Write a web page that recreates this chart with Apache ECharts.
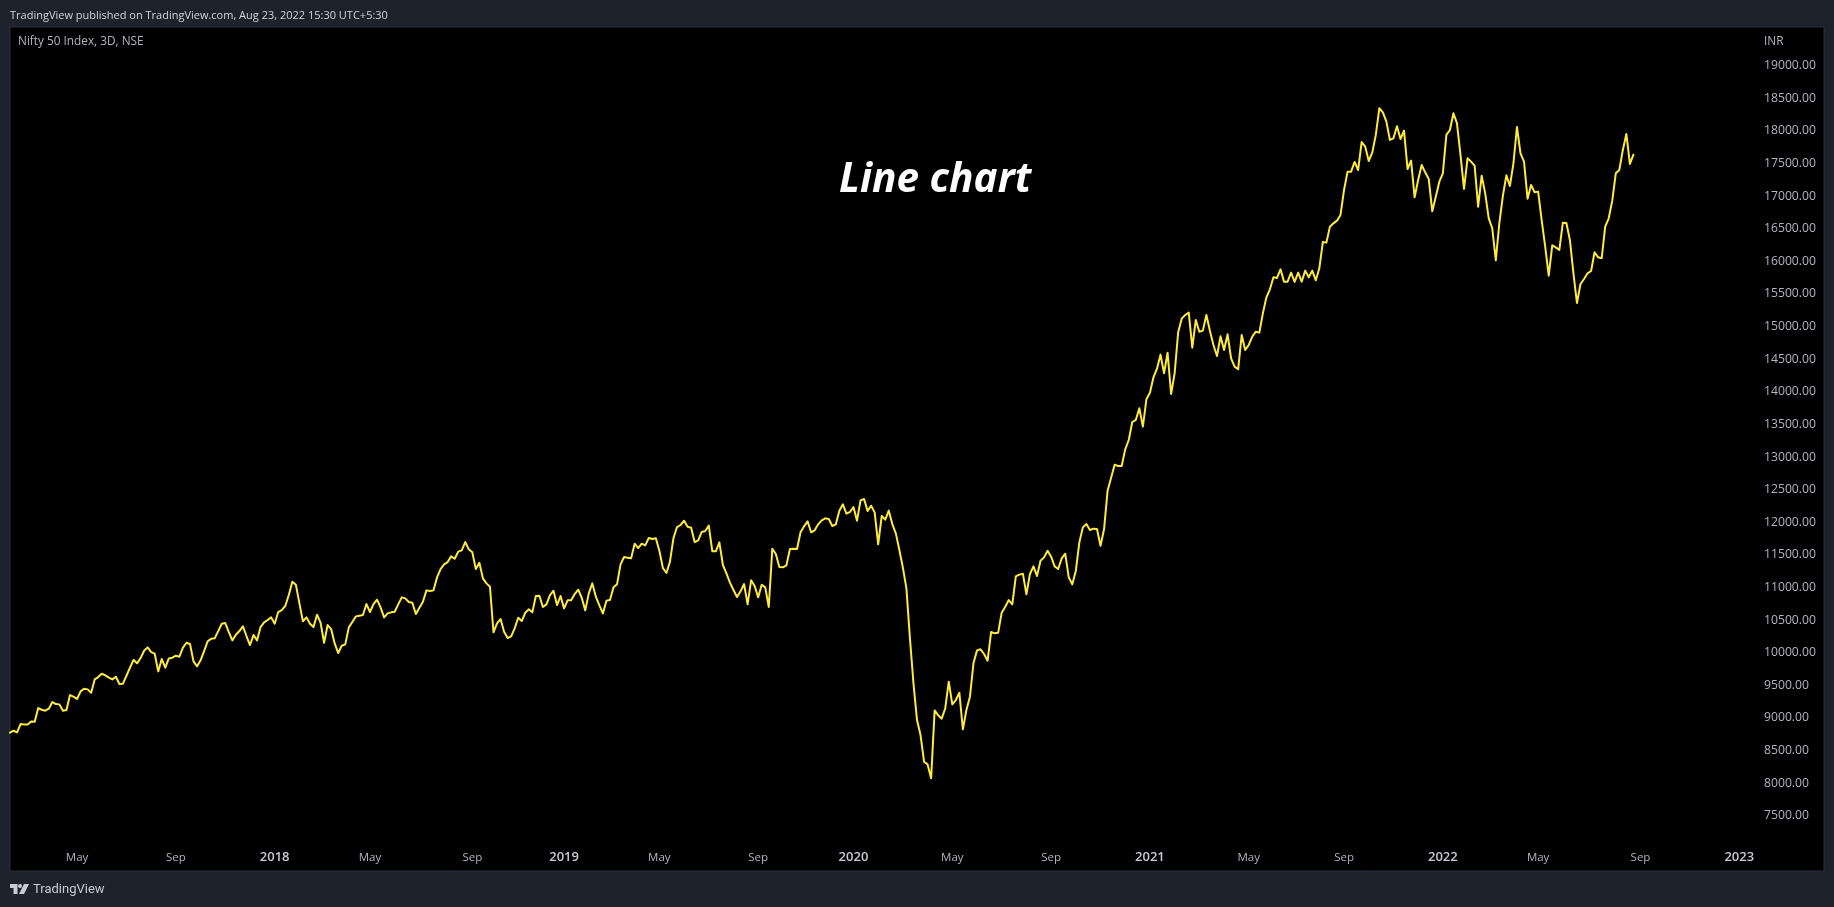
<!DOCTYPE html>
<html><head><meta charset="utf-8">
<style>html,body{margin:0;padding:0;background:#1e222d;}#c{width:1834px;height:907px;}</style>
<script src="https://cdn.jsdelivr.net/npm/echarts@6/dist/echarts.min.js"></script>
</head><body><div id="c"></div>
<script>
const closes = [
8774,8804,8779,8906,8901,8901,8947,8942,9152,9126,9111,9141,9244,9213,9208,9111,9121,9351,9326,9290,9407,9448,9438,9387,9591,9627,9678,9653,9617,9591,
9632,9520,9525,9647,9770,9888,9837,9918,10031,10082,10010,9985,9714,9903,9770,9913,9923,9954,9939,10077,10153,10133,9867,9791,9883,10026,10174,10215,10220,10332,
10445,10455,10317,10189,10276,10332,10404,10256,10118,10271,10189,10394,10465,10501,10542,10445,10624,10654,10716,10884,11089,11043,10757,10481,10542,10445,10394,10583,10460,10153,
10424,10363,10143,9995,10107,10128,10389,10470,10557,10567,10578,10746,10624,10746,10813,10695,10542,10603,10619,10629,10741,10849,10833,10777,10767,10593,10690,10782,10956,10946,
10956,11155,11283,11355,11390,11477,11441,11549,11569,11697,11585,11539,11283,11380,11140,11063,11012,10312,10450,10516,10322,10225,10251,10373,10537,10486,10613,10665,10619,10869,
10874,10700,10741,10884,10951,10731,10869,10680,10803,10803,10900,10966,10843,10649,10910,11063,10859,10726,10603,
10798,10808,11002,11048,11355,11467,11457,11447,11672,11605,11672,11646,11759,11743,11754,11564,11299,11222,11396,11759,11927,11958,12024,11932,11917,11697,11723,11851,11866,11948,
11554,11554,11692,11345,11217,11074,10961,10854,10941,11053,10742,11110,11023,10849,11043,11002,10701,11595,11513,11314,11309,11340,11590,11595,11590,11846,11938,12014,11846,11876,
11968,12030,12060,12050,11943,11968,12178,12275,12132,12157,12234,12024,12336,12357,12173,12254,12152,11662,12096,12040,12178,11973,11830,11575,11304,10987,10220,9530,8968,8738,
8329,8288,8074,9116,9040,8989,9147,9556,9208,9275,9387,8825,9121,9326,9837,10036,10052,9980,9878,10317,10297,10307,10614,10706,10808,10742,11171,11197,11212,10895,
11207,11324,11176,11411,11462,11564,11472,11324,11283,11447,11518,11156,11048,11253,11692,11922,11973,11881,11902,11897,11641,11892,12484,12684,12883,12863,12863,
13118,13261,13537,13568,13747,13466,13885,13987,14222,14355,14570,14283,14600,13966,14283,14912,15122,15178,15214,14677,15101,14922,14938,15178,14932,14718,14549,14851,14641,14881,
14513,14386,14345,14871,14641,14718,14846,14922,14907,15203,15449,15571,15755,15745,15878,15689,15689,15827,15684,15827,15689,15858,15755,15858,15709,15893,16297,16287,16532,16583,
16624,16711,17094,17375,17375,17524,17401,17830,17759,17539,17667,17938,18347,18285,18142,17861,17887,18071,17876,18004,17416,17544,16982,17248,17478,17365,17263,16767,16992,17222,
17350,17938,18014,18270,18117,17631,17110,17580,17529,17467,16839,17314,17043,16660,16507,16016,16583,17002,17319,17156,17503,18060,17657,17529,16961,17171,17059,17069,16634,16225,
15781,16246,16215,16174,16593,16588,16328,15817,15362,15653,15730,15817,15852,16139,16062,16047,16532,16660,16931,17350,17401,17708,17953,17493,17636
];
const yTicks = [7500,8000,8500,9000,9500,10000,10500,11000,11500,12000,12500,13000,13500,14000,14500,15000,15500,16000,16500,17000,17500,18000,18500,19000];
const tickLabels = ['May','Sep','2018','May','Sep','2019','May','Sep','2020','May','Sep','2021','May','Sep','2022','May','Sep','2023'];
const tickBars = [19,47,75,102,131,157,184,212,239,267,295,323,351,378,406,433,462,490];
const barCount = 515;
const categories = [];
for (let i = 0; i < barCount; i++) categories.push(String(i));

const chart = echarts.init(document.getElementById('c'), null, {renderer:'canvas', width:1834, height:907});
const FONT = '"Open Sans","Noto Sans",sans-serif';
chart.setOption({
  animation:false,
  backgroundColor:'#1e222d',
  grid:{left:10,right:10,top:27,bottom:36,show:true,backgroundColor:'#000000',borderColor:'#2a2e39',borderWidth:1},
  xAxis:{type:'category',data:categories,boundaryGap:false,
    axisLine:{show:false},axisTick:{show:false},splitLine:{show:false},
    axisLabel:{inside:true,margin:7,color:'#b2b5be',fontFamily:FONT,fontSize:11.5,
      interval:(i)=>tickBars.indexOf(i)>=0,
      formatter:(v,i)=>{const k=tickBars.indexOf(i);if(k<0)return '';const t=tickLabels[k];return /^\d+$/.test(t)?'{y|'+t+'}':t;},
      rich:{y:{color:'#c8cbd3',fontFamily:FONT,fontSize:13,fontWeight:600}}}},
  yAxis:{type:'value',position:'right',min:6653.5,max:19593,
    axisLine:{show:false},axisTick:{show:false},splitLine:{show:false},
    axisLabel:{inside:true,margin:60,align:'left',color:'#b2b5be',fontFamily:FONT,fontSize:12.2,padding:[3,0,0,0],
      customValues:yTicks,formatter:(v)=>Number(v).toFixed(2)}},
  series:[{type:'line',data:closes,showSymbol:false,symbol:'none',smooth:false,
    lineStyle:{color:'#ffeb3b',width:2,join:'round',cap:'round'},silent:true}],
  graphic:[
    {type:'text',left:10,top:10,style:{text:'TradingView published on TradingView.com, Aug 23, 2022 15:30 UTC+5:30',fill:'#d1d4dc',font:'11px '+FONT}},
    {type:'text',left:18,top:36,style:{text:'Nifty 50 Index, 3D, NSE',fill:'#b2b5be',font:'11.8px '+FONT}},
    {type:'text',left:1764,top:36,style:{text:'INR',fill:'#b2b5be',font:'11.8px '+FONT}},
    {type:'text',left:839,top:160,style:{text:'Line chart',fill:'#ffffff',font:'italic bold 40.5px '+FONT}},
    {type:'text',left:33,top:883,style:{text:'TradingView',fill:'#c8cbd3',font:'13px Roboto,'+FONT}},
    {type:'group',left:10,top:884,children:[
      {type:'polygon',shape:{points:[[0,0],[7.5,0],[7.5,10],[3.5,10],[3.5,4],[0,4]]},style:{fill:'#c8cbd3'}},
      {type:'circle',shape:{cx:10,cy:2,r:2},style:{fill:'#c8cbd3'}},
      {type:'polygon',shape:{points:[[14,0],[19,0],[14,10],[9,10]]},style:{fill:'#c8cbd3'}}
    ]}
  ]
});
</script></body></html>
